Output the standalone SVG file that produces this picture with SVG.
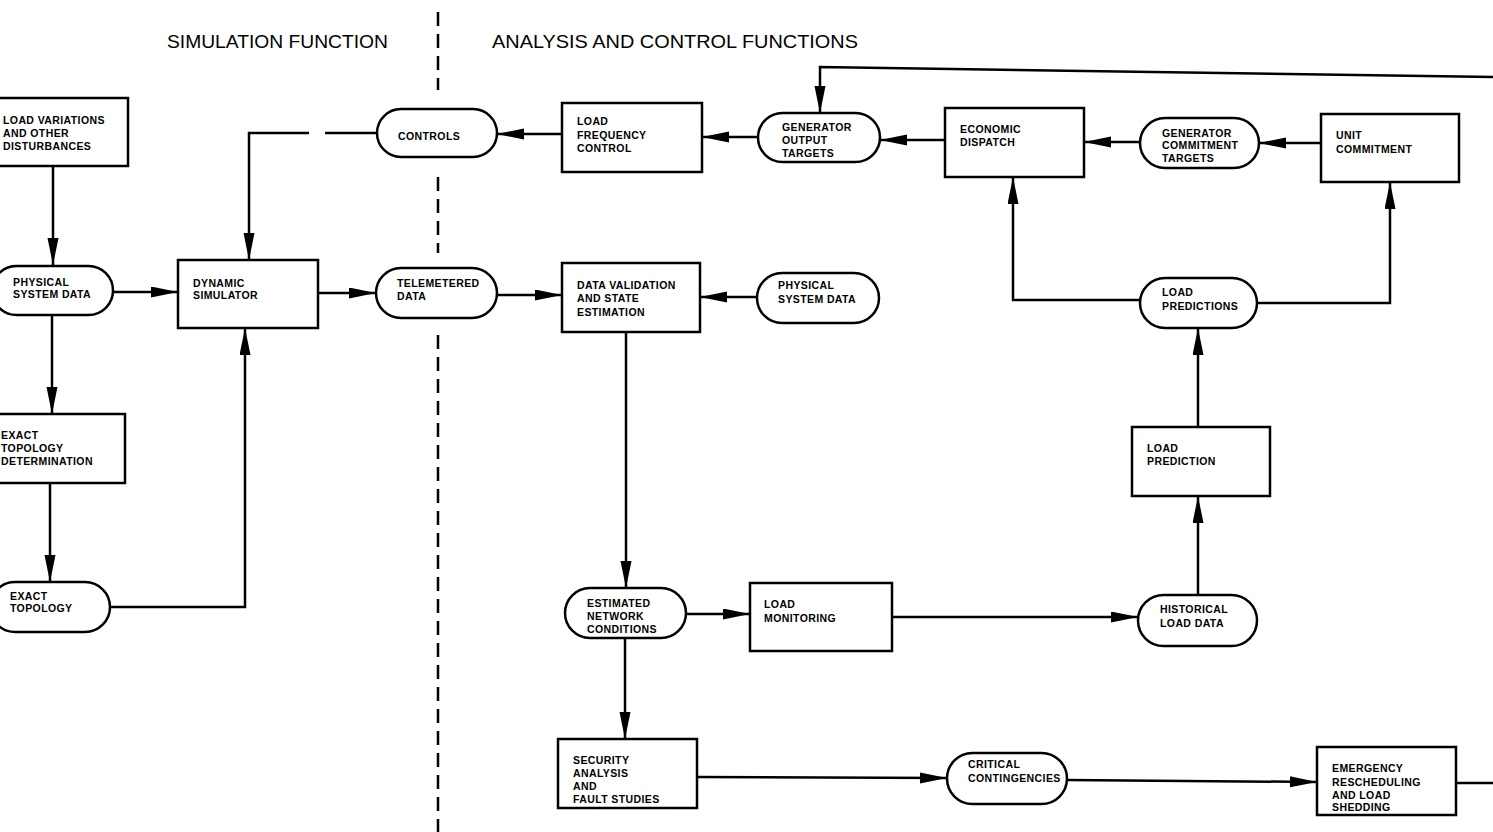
<svg xmlns="http://www.w3.org/2000/svg" width="1493" height="832" viewBox="0 0 1493 832">
<defs>
<marker id="ah" markerUnits="userSpaceOnUse" markerWidth="30" markerHeight="12" refX="27" refY="5.5" orient="auto">
<path d="M0,0 L27,5.5 L0,11 Z" fill="#000"/>
</marker>
<style>
.bx{fill:#fff;stroke:#000;stroke-width:2.5}
.t{font-family:"Liberation Sans",Arial,sans-serif;font-weight:bold;font-size:10.5px;letter-spacing:0.4px;fill:#000}
.ti{font-family:"Liberation Sans",Arial,sans-serif;font-size:19px;fill:#000}
.c{fill:none;stroke:#000;stroke-width:2.5;marker-end:url(#ah)}
.ln{fill:none;stroke:#000;stroke-width:2.5}
.dv{fill:none;stroke:#000;stroke-width:2.5;stroke-dasharray:14 8}
</style>
</defs>
<rect width="1493" height="832" fill="#fff"/>
<g id="titles">
<text class="ti" x="167" y="48" textLength="221" lengthAdjust="spacingAndGlyphs">SIMULATION FUNCTION</text>
<text class="ti" x="492" y="48" textLength="366" lengthAdjust="spacingAndGlyphs">ANALYSIS AND CONTROL FUNCTIONS</text>
</g>
<g id="divider">
<path class="dv" d="M438,12 V90 M438,177 V253 M438,335 V832"/>
</g>
<g id="connectors">
<path class="c" d="M53,166 V265"/>
<path class="c" d="M113,292 H178"/>
<path class="c" d="M52,315 V414"/>
<path class="c" d="M50,483 V582"/>
<path class="c" d="M110,607 H245 V328"/>
<path class="c" d="M377,133 H325 M309,133 H249 V260"/>
<path class="c" d="M318,293 H376"/>
<path class="c" d="M497,295 H562"/>
<path class="c" d="M562,134 H497"/>
<path class="c" d="M758,137 H702"/>
<path class="c" d="M945,140 H880"/>
<path class="c" d="M1140,142 H1084"/>
<path class="c" d="M1321,143 H1259"/>
<path class="c" d="M1493,77 L820,67 V113"/>
<path class="c" d="M1140,300 H1013 V177"/>
<path class="c" d="M1257,303 H1390 V182"/>
<path class="c" d="M1198,427 V328"/>
<path class="c" d="M1198,595 V496"/>
<path class="c" d="M892,617 H1138"/>
<path class="c" d="M686,614 H750"/>
<path class="c" d="M626,332 V588"/>
<path class="c" d="M757,297 H700"/>
<path class="c" d="M625,638 V739"/>
<path class="c" d="M697,777 L947,778"/>
<path class="c" d="M1067,780 L1317,782"/>
<path class="ln" d="M1456,783 H1493"/>
</g>
<g id="load-variations">
<rect class="bx" x="-2" y="98" width="130" height="68"/>
<text class="t" x="3" y="124">LOAD VARIATIONS</text>
<text class="t" x="3" y="137">AND OTHER</text>
<text class="t" x="3" y="150">DISTURBANCES</text>
</g>
<g id="physical-system-data-sim">
<rect class="bx" x="-8" y="266" width="121" height="49" rx="24.5"/>
<text class="t" x="13" y="286">PHYSICAL</text>
<text class="t" x="13" y="298">SYSTEM DATA</text>
</g>
<g id="dynamic-simulator">
<rect class="bx" x="178" y="260" width="140" height="68"/>
<text class="t" x="193" y="287">DYNAMIC</text>
<text class="t" x="193" y="299">SIMULATOR</text>
</g>
<g id="controls">
<rect class="bx" x="377" y="109" width="120" height="48" rx="24"/>
<text class="t" x="398" y="140">CONTROLS</text>
</g>
<g id="telemetered-data">
<rect class="bx" x="376" y="268" width="121" height="50" rx="25"/>
<text class="t" x="397" y="287">TELEMETERED</text>
<text class="t" x="397" y="300">DATA</text>
</g>
<g id="exact-topology-determination">
<rect class="bx" x="-5" y="414" width="130" height="69"/>
<text class="t" x="1" y="439">EXACT</text>
<text class="t" x="1" y="452">TOPOLOGY</text>
<text class="t" x="1" y="465">DETERMINATION</text>
</g>
<g id="exact-topology">
<rect class="bx" x="-10" y="582" width="120" height="50" rx="25"/>
<text class="t" x="10" y="600">EXACT</text>
<text class="t" x="10" y="612">TOPOLOGY</text>
</g>
<g id="load-frequency-control">
<rect class="bx" x="562" y="103" width="140" height="69"/>
<text class="t" x="577" y="125">LOAD</text>
<text class="t" x="577" y="139">FREQUENCY</text>
<text class="t" x="577" y="152">CONTROL</text>
</g>
<g id="generator-output-targets">
<rect class="bx" x="758" y="113" width="122" height="49" rx="24.5"/>
<text class="t" x="782" y="131">GENERATOR</text>
<text class="t" x="782" y="144">OUTPUT</text>
<text class="t" x="782" y="157">TARGETS</text>
</g>
<g id="economic-dispatch">
<rect class="bx" x="945" y="108" width="139" height="69"/>
<text class="t" x="960" y="133">ECONOMIC</text>
<text class="t" x="960" y="146">DISPATCH</text>
</g>
<g id="generator-commitment-targets">
<rect class="bx" x="1140" y="118" width="119" height="50" rx="25"/>
<text class="t" x="1162" y="137">GENERATOR</text>
<text class="t" x="1162" y="149">COMMITMENT</text>
<text class="t" x="1162" y="162">TARGETS</text>
</g>
<g id="unit-commitment">
<rect class="bx" x="1321" y="114" width="138" height="68"/>
<text class="t" x="1336" y="139">UNIT</text>
<text class="t" x="1336" y="153">COMMITMENT</text>
</g>
<g id="load-predictions">
<rect class="bx" x="1140" y="278" width="117" height="50" rx="25"/>
<text class="t" x="1162" y="296">LOAD</text>
<text class="t" x="1162" y="310">PREDICTIONS</text>
</g>
<g id="data-validation">
<rect class="bx" x="562" y="263" width="138" height="69"/>
<text class="t" x="577" y="289">DATA VALIDATION</text>
<text class="t" x="577" y="302">AND STATE</text>
<text class="t" x="577" y="316">ESTIMATION</text>
</g>
<g id="physical-system-data">
<rect class="bx" x="757" y="273" width="122" height="50" rx="25"/>
<text class="t" x="778" y="289">PHYSICAL</text>
<text class="t" x="778" y="303">SYSTEM DATA</text>
</g>
<g id="load-prediction">
<rect class="bx" x="1132" y="427" width="138" height="69"/>
<text class="t" x="1147" y="452">LOAD</text>
<text class="t" x="1147" y="465">PREDICTION</text>
</g>
<g id="estimated-network-conditions">
<rect class="bx" x="565" y="588" width="121" height="50" rx="25"/>
<text class="t" x="587" y="607">ESTIMATED</text>
<text class="t" x="587" y="620">NETWORK</text>
<text class="t" x="587" y="633">CONDITIONS</text>
</g>
<g id="load-monitoring">
<rect class="bx" x="750" y="583" width="142" height="68"/>
<text class="t" x="764" y="608">LOAD</text>
<text class="t" x="764" y="622">MONITORING</text>
</g>
<g id="historical-load-data">
<rect class="bx" x="1138" y="595" width="119" height="51" rx="25.5"/>
<text class="t" x="1160" y="613">HISTORICAL</text>
<text class="t" x="1160" y="627">LOAD DATA</text>
</g>
<g id="security-analysis">
<rect class="bx" x="558" y="739" width="139" height="69"/>
<text class="t" x="573" y="764">SECURITY</text>
<text class="t" x="573" y="777">ANALYSIS</text>
<text class="t" x="573" y="790">AND</text>
<text class="t" x="573" y="803">FAULT STUDIES</text>
</g>
<g id="critical-contingencies">
<rect class="bx" x="947" y="753" width="120" height="51" rx="25.5"/>
<text class="t" x="968" y="768">CRITICAL</text>
<text class="t" x="968" y="782">CONTINGENCIES</text>
</g>
<g id="emergency-rescheduling">
<rect class="bx" x="1317" y="747" width="139" height="68"/>
<text class="t" x="1332" y="772">EMERGENCY</text>
<text class="t" x="1332" y="786">RESCHEDULING</text>
<text class="t" x="1332" y="799">AND LOAD</text>
<text class="t" x="1332" y="811">SHEDDING</text>
</g>
</svg>
